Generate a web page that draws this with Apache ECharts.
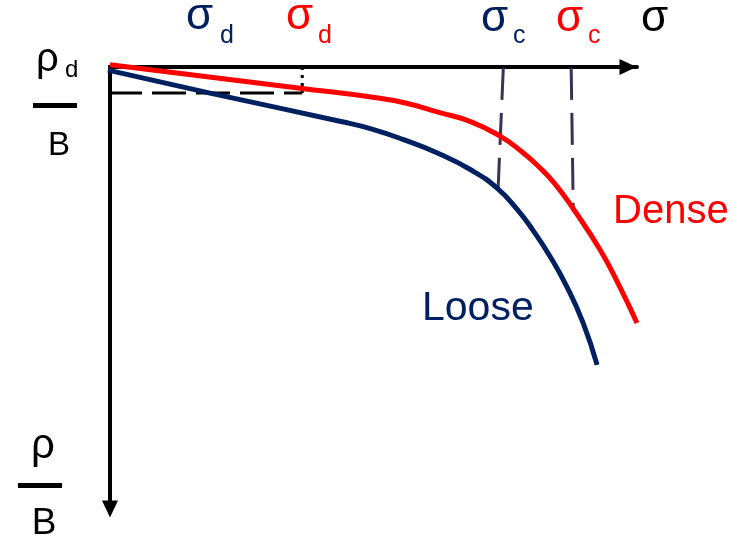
<!DOCTYPE html>
<html>
<head>
<meta charset="utf-8">
<script src="https://cdn.jsdelivr.net/npm/echarts@6/dist/echarts.min.js"></script>
<style>
  html, body { margin: 0; padding: 0; background: #ffffff; }
  #chart { width: 742px; height: 544px; }
</style>
</head>
<body>
<div id="chart"></div>
<script>
// Settlement curves: normalised load sigma (x) against normalised settlement rho/B (y, downward)
const denseSigma = [0, 3.67, 5.04, 5.68, 6.33, 6.97, 7.55, 7.93, 8.26, 8.57, 8.93, 9.46, 9.84, 10.17];
const denseRho   = [-0.05, 0.48, 0.68, 0.81, 1.02, 1.24, 1.58, 1.90, 2.24, 2.62, 3.19, 4.14, 4.98, 5.79];

const looseSigma = [-0.04, 1.93, 4.48, 5.04, 5.68, 6.33, 6.97, 7.47, 7.85, 8.16, 8.49, 8.82, 9.13, 9.40];
const looseRho   = [0.07, 0.59, 1.24, 1.40, 1.65, 1.95, 2.33, 2.74, 3.21, 3.69, 4.28, 4.98, 5.79, 6.74];

// Reference settlement level rho_d/B and the stress markers
const rhoD = 0.59;
const sigmaDDense = 3.71;
const sigmaCLoose = [7.59, 7.49];   // top, bottom of the marker
const sigmaCLooseRho = [0.02, 2.74];
const sigmaCDense = [8.90, 8.94];
const sigmaCDenseRho = [0.02, 3.24];

const RED = '#ff0000';
const NAVY = '#002060';
const PURPLE = '#3f3151';
const FONT = '"Liberation Sans", Arial, sans-serif';

function pairs(xs, ys) { return xs.map((x, i) => [x, ys[i]]); }

const chart = echarts.init(document.getElementById('chart'), null, { renderer: 'canvas' });

function txt(text, x, y, size, color, align) {
  return {
    type: 'text', x: x, y: y, silent: true,
    style: { text: text, fill: color, font: size + 'px ' + FONT,
             align: align || 'left', verticalAlign: 'middle' }
  };
}
function bar(x1, x2, y1, y2) {
  return { type: 'rect', silent: true, shape: { x: x1, y: y1, width: x2 - x1, height: y2 - y1 },
           style: { fill: '#000' } };
}

chart.setOption({
  animation: false,
  backgroundColor: '#ffffff',
  grid: { left: 110, top: 67, width: 527, height: 442, containLabel: false },
  xAxis: {
    type: 'value', min: 0, max: 10.17, position: 'top',
    axisLine: { onZero: false, symbol: ['none', 'triangle'], symbolSize: [16, 17],
                symbolOffset: [0, -9],
                lineStyle: { color: '#000', width: 4 } },
    axisTick: { show: false }, axisLabel: { show: false }, splitLine: { show: false }
  },
  yAxis: {
    type: 'value', min: 0, max: 10, inverse: true, position: 'left',
    axisLine: { onZero: false, symbol: ['triangle', 'none'], symbolSize: [16, 17],
                lineStyle: { color: '#000', width: 4, cap: 'square' } },
    axisTick: { show: false }, axisLabel: { show: false }, splitLine: { show: false }
  },
  series: [
    { type: 'line', name: 'rhoD', data: [[0, rhoD], [sigmaDDense, rhoD]], symbol: 'none', clip: false,
      lineStyle: { color: '#000', width: 3, type: [34, 10], dashOffset: 2 }, z: 1 },
    { type: 'line', name: 'sigmaD', data: [[sigmaDDense, 0], [sigmaDDense, rhoD]], symbol: 'none', clip: false,
      lineStyle: { color: '#000', width: 3, type: [3, 5] }, z: 1 },
    { type: 'line', name: 'sigmaCLoose', data: pairs(sigmaCLoose, sigmaCLooseRho), symbol: 'none', clip: false,
      lineStyle: { color: PURPLE, width: 3, type: [32, 13] }, z: 1 },
    { type: 'line', name: 'sigmaCDense', data: pairs(sigmaCDense, sigmaCDenseRho), symbol: 'none', clip: false,
      lineStyle: { color: PURPLE, width: 3, type: [32, 13] }, z: 1 },
    { type: 'line', name: 'Dense', data: pairs(denseSigma, denseRho), symbol: 'none', clip: false,
      smooth: 0.5, lineStyle: { color: RED, width: 5 }, z: 3 },
    { type: 'line', name: 'Loose', data: pairs(looseSigma, looseRho), symbol: 'none', clip: false,
      smooth: 0.5, lineStyle: { color: NAVY, width: 5 }, z: 4 }
  ],
  graphic: [
    txt('σ', 186, 17, 44, NAVY), txt('d', 220, 36, 25, NAVY),
    txt('σ', 286, 17, 44, RED), txt('d', 318, 36, 25, RED),
    txt('σ', 481, 19, 44, NAVY), txt('c', 513, 36, 25, NAVY),
    txt('σ', 556, 19, 44, RED), txt('c', 588, 36, 25, RED),
    txt('σ', 641, 19, 44, '#000'),
    txt('ρ', 36, 60, 40, '#000'), txt('d', 65, 70, 24, '#000'),
    bar(33, 77, 103, 108),
    txt('B', 59, 146, 33, '#000', 'center'),
    txt('ρ', 31, 446, 42, '#000'),
    bar(18, 62, 483, 488),
    txt('B', 44, 524, 37, '#000', 'center'),
    txt('Dense', 613, 212, 40, RED),
    txt('Loose', 422, 309, 41, NAVY)
  ]
});
</script>
</body>
</html>
